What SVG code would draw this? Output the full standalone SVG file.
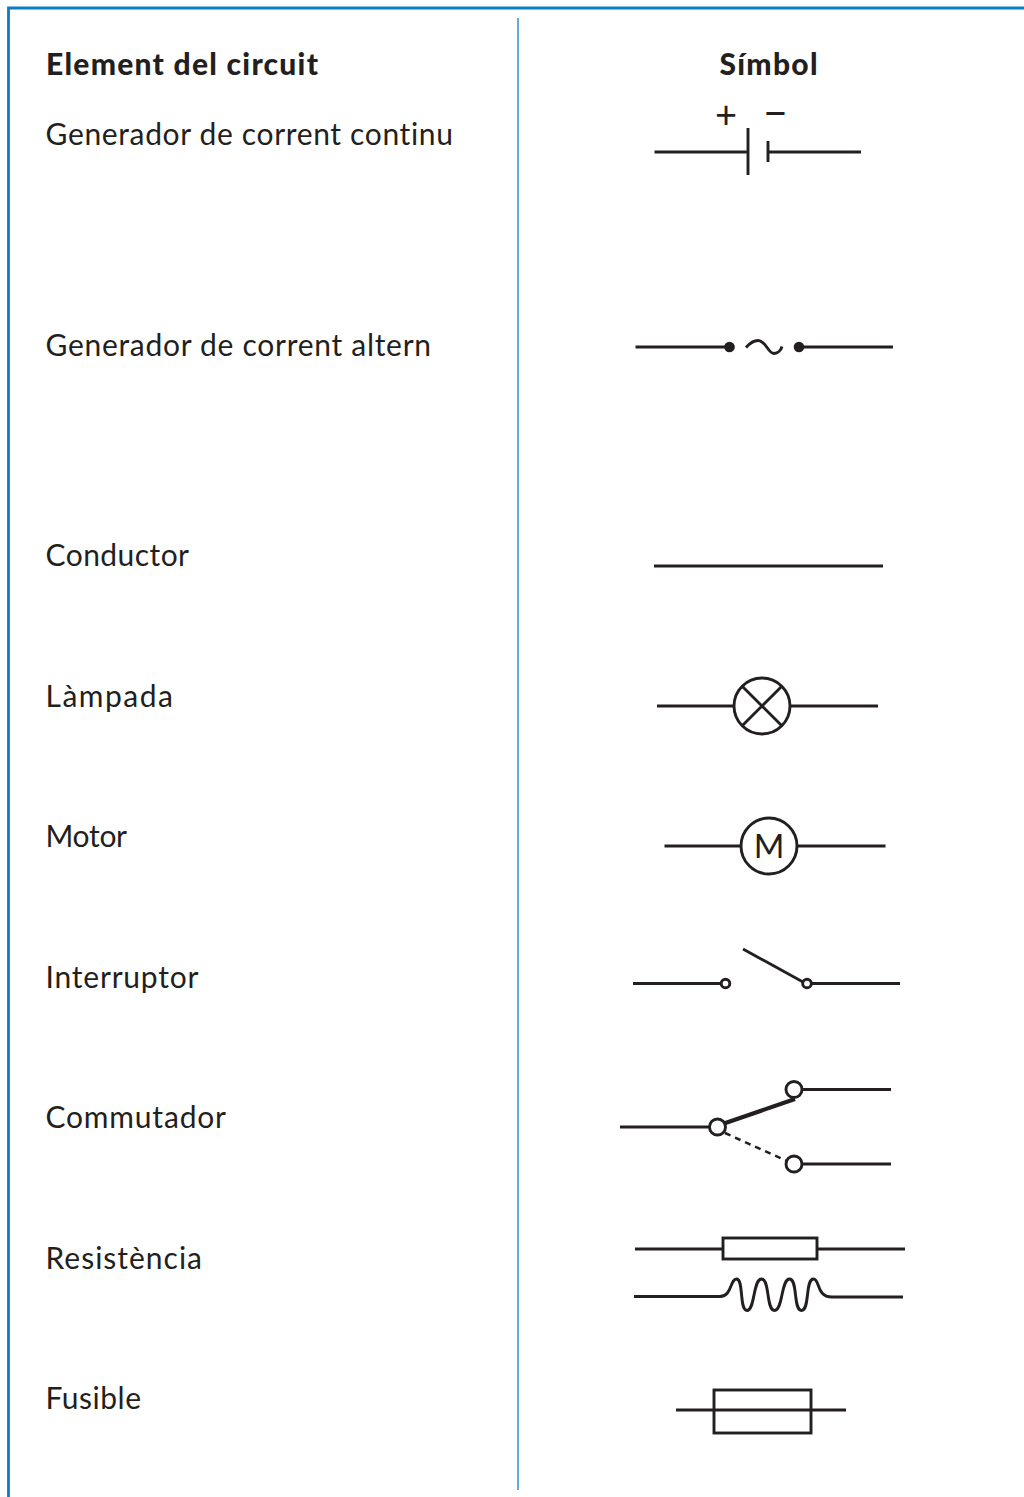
<svg xmlns="http://www.w3.org/2000/svg" width="1024" height="1497" viewBox="0 0 1024 1497">
<style>
.t{font-family:"Lato","Liberation Sans",sans-serif;font-size:30px;fill:#231f20;font-variant-ligatures:none}
.b{font-weight:900}
.s{font-family:"Lato","Liberation Sans",sans-serif;fill:#231f20;text-anchor:middle}
.w{fill:none;stroke:#231f20;stroke-width:2.9}
.c{fill:#fff;stroke:#231f20;stroke-width:2.9}
.d{fill:#231f20}
</style>
<rect width="1024" height="1497" fill="#fff"/>
<g id="frame" fill="none" stroke="#0b7dc5">
<path d="M8.5 1497V8H1024" stroke-width="2.8"/>
<path d="M518 18V1490" stroke-width="1.6" stroke="#3f97d1"/>
</g>
<g id="labels">
<text class="t b" x="46" y="75" textLength="272">Element del circuit</text>
<text class="t b" x="719.500" y="75" textLength="98">Símbol</text>
<text class="t" x="45.500" y="145" textLength="407.500">Generador de corrent continu</text>
<text class="t" x="45.500" y="356" textLength="385.500">Generador de corrent altern</text>
<text class="t" x="45.500" y="566" textLength="143.500">Conductor</text>
<text class="t" x="45.500" y="707" textLength="127.500">Làmpada</text>
<text class="t" x="45.500" y="847" textLength="81.500">Motor</text>
<text class="t" x="45.500" y="988" textLength="153">Interruptor</text>
<text class="t" x="45.500" y="1128" textLength="180.500">Commutador</text>
<text class="t" x="45.500" y="1269" textLength="156.500">Resistència</text>
<text class="t" x="45.500" y="1409" textLength="95.500">Fusible</text>
</g>
<g id="connectors">
<path class="w" d="M654.500 152H748M768 152H861"/>
<path class="w" d="M635.500 347H729M799 347H893"/>
<path class="w" d="M654 566H883"/>
<path class="w" d="M657 706H734M790 706H878"/>
<path class="w" d="M664.500 846H741M797 846H885.500"/>
<path class="w" d="M633 983.500H721M811 983.500H900"/>
<path class="w" d="M620 1127H709M802 1089.500H891M802 1164H891"/>
<path class="w" d="M635 1249H723M817 1249H905"/>
<path class="w" d="M634 1296.500H720C732 1296.500 730 1279 736.500 1279C744 1279 739 1310.500 747 1310.500C755 1310.500 753 1279 761.500 1279C770 1279 766 1310.500 774.500 1310.500C783 1310.500 781 1279 789.500 1279C798 1279 793 1310.500 801.500 1310.500C810 1310.500 805 1279 813.500 1279C820 1279 816 1297 832 1297H903"/>
<path class="w" d="M676 1410H846"/>
</g>
<g id="generador-continu">
<path class="w" d="M748 128V175M768 141V162"/>
<text class="s" x="726" y="128" font-size="38">+</text>
<text class="s" x="775.500" y="128" font-size="42">−</text>
</g>
<g id="generador-altern">
<circle class="d" cx="729.500" cy="347" r="5.300"/>
<circle class="d" cx="799" cy="347" r="5.300"/>
<path class="w" d="M746 347.500C750 343 754 340.500 758 340.500C766 340.500 768 353.500 774 353.500C778 353.500 781 350 782 346.500"/>
</g>
<g id="lampada">
<circle class="c" cx="762" cy="706" r="28"/>
<path class="w" d="M742.200 686.200L781.800 725.800M781.800 686.200L742.200 725.800"/>
</g>
<g id="motor">
<circle class="c" cx="769" cy="846" r="28"/>
<text class="s" x="769" y="857.500" font-size="33">M</text>
</g>
<g id="interruptor">
<path class="w" d="M743 949L803 982"/>
<circle class="c" cx="725.500" cy="983.500" r="4.300"/>
<circle class="c" cx="807" cy="983.500" r="4.300"/>
</g>
<g id="commutador">
<path fill="none" stroke="#231f20" stroke-width="4.200" d="M724 1123.500L795 1099"/>
<path fill="none" stroke="#231f20" stroke-width="2.500" stroke-dasharray="6 5" d="M725 1133L787 1161"/>
<circle class="c" cx="717.500" cy="1127" r="8"/>
<circle class="c" cx="794" cy="1089.500" r="8"/>
<circle class="c" cx="794" cy="1164" r="8"/>
</g>
<g id="resistencia">
<rect class="w" x="723" y="1238" width="94" height="21"/>
</g>
<g id="fusible">
<rect class="w" x="714" y="1390" width="97" height="43"/>
</g>
</svg>
